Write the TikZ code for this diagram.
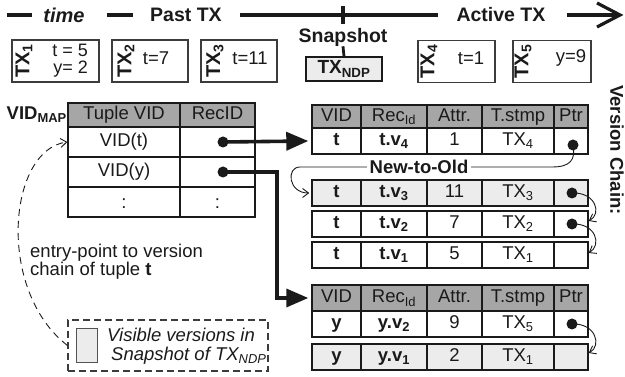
\documentclass[tikz,border=0pt]{standalone}
\usepackage{fontspec}
\setmainfont{Liberation Sans}
\usetikzlibrary{arrows.meta}
\definecolor{hdrgray}{HTML}{A6A6A6}
\definecolor{visgray}{HTML}{ECECEC}
\definecolor{ink}{HTML}{1A1A1A}

% one row of a version table: [height]{name}{y centre}{fill}{VID}{Rec}{Attr}{T.stmp}
\newcommand\vrow[8][26]{%
  \node[rowbox, fill=#4, minimum height=#1pt] (#2) at (450,#3) {};
  \foreach \cx in {361,427,482,554}
    \draw[rowline] (\cx,{#3-#1/2}) -- (\cx,{#3+#1/2});
  \node[cell] at (336.5,#3) {#5};
  \node[cell] at (394,#3) {#6};
  \node[cell] at (454.5,#3) {#7};
  \node[cell] at (518,#3) {#8};
}

\begin{document}
\begin{tikzpicture}[x=1pt,y=-1pt,
  font=\fontsize{18.5}{20}\selectfont, text=ink,
  tlabel/.style={font=\fontsize{19.5}{21}\selectfont\bfseries, inner sep=0pt},
  timeline/.style={line width=3.2pt, draw=ink},
  txbox/.style={draw=ink!85, line width=1.1pt, minimum height=42pt, inner sep=0pt},
  txname/.style={rotate=90, font=\fontsize{20}{21}\selectfont\bfseries, inner sep=0pt},
  txval/.style={inner sep=0pt, font=\fontsize{18.5}{20}\selectfont},
  rowbox/.style={draw=ink, line width=1.4pt, minimum width=276pt, inner sep=0pt},
  maprow/.style={draw=ink, line width=1.4pt, minimum width=187pt, inner sep=0pt},
  rowline/.style={draw=ink, line width=1.2pt},
  cell/.style={inner sep=0pt, text height=13.5pt, text depth=3.8pt},
  dot/.style={circle, fill=ink, inner sep=0pt, minimum size=11pt},
  thickarrow/.style={line width=3.6pt, draw=ink, -{Triangle[length=22pt,width=18pt]}},
  chain/.style={line width=0.9pt, draw=ink, -{Straight Barb[length=6pt,width=9pt]}},
  entry/.style={line width=0.9pt, draw=ink, dash pattern=on 7pt off 5pt, -{Straight Barb[length=6pt,width=9pt]}},
]
\useasboundingbox (0,0) rectangle (625,377);

% ---- time axis ----
\coordinate (a0) at (7,15);   \coordinate (a1) at (32,15);
\coordinate (b0) at (107,15); \coordinate (b1) at (133,15);
\coordinate (c0) at (240,15); \coordinate (c1) at (438,15);
\coordinate (e0) at (567,15); \coordinate (tip) at (620,15);
\coordinate (h1) at (597,3);  \coordinate (h2) at (597,27);
\node[tlabel, font=\fontsize{20}{21}\selectfont\bfseries\itshape] (time) at (64,15) {time};
\node[tlabel] (past) at (186,15) {Past TX};
\node[tlabel] (active) at (501,15) {Active TX};
\draw[timeline] (a0) -- (a1);
\draw[timeline] (b0) -- (b1);
\draw[timeline] (c0) -- (c1);
\draw[timeline] (e0) -- (tip);
\draw[timeline, line join=miter] (h1) -- (tip) -- (h2);

% snapshot marker
\coordinate (s0) at (343,6); \coordinate (s1) at (343,24);
\draw[timeline] (s0) -- (s1);
\node[tlabel] (snap) at (343,37) {Snapshot};
\node[draw=ink, line width=1.1pt, fill=visgray, minimum width=76pt, minimum height=24pt,
      inner sep=0pt, font=\fontsize{19}{20}\selectfont\bfseries] (ndp) at (344,69) {TX\textsubscript{NDP}};
\draw[line width=2.8pt, draw=ink] (snap.south) -- (ndp.north);

% ---- transactions ----
\node[txbox, minimum width=87pt] (tx1) at (55.5,61) {};
\node[txbox, minimum width=76pt] (tx2) at (150,61) {};
\node[txbox, minimum width=76pt] (tx3) at (239,61) {};
\node[txbox, minimum width=77pt] (tx4) at (456.5,61.5) {};
\node[txbox, minimum width=78pt] (tx5) at (552,61.5) {};
\node[txname] at (24,61) {TX\textsubscript{1}};
\node[txname] at (126,61) {TX\textsubscript{2}};
\node[txname] at (215,61) {TX\textsubscript{3}};
\node[txname] at (429,61.5) {TX\textsubscript{4}};
\node[txname] at (523,61.5) {TX\textsubscript{5}};
\node[txval, anchor=east, font=\fontsize{18}{19}\selectfont] at (88,50.5) {t = 5};
\node[txval, anchor=east, font=\fontsize{18}{19}\selectfont] at (88,69.5) {y= 2};
\node[txval] at (156,58) {t=7};
\node[txval] at (250,58) {t=11};
\node[txval] at (471,58) {t=1};
\node[txval] at (571,58) {y=9};

% ---- VID map ----
\node[anchor=east, inner sep=0pt, font=\fontsize{18.5}{20}\selectfont\bfseries] (vmlabel) at (67,115) {VID\textsubscript{MAP}};
\node[maprow, fill=hdrgray, minimum height=24pt] (vmh) at (161.5,115) {};
\node[maprow, minimum height=30pt] (vm1) at (161.5,142) {};
\node[maprow, minimum height=30pt] (vm2) at (161.5,172) {};
\node[maprow, minimum height=30pt] (vm3) at (161.5,202) {};
\draw[rowline] (180,103) -- (180,217);
\node[cell] at (124,115) {Tuple VID};
\node[cell] at (217.5,115) {RecID};
\node[cell] at (124,142) {VID(t)};
\node[cell] at (124,172) {VID(y)};
\node[cell] at (124,204) {:};
\node[cell] at (217.5,204) {:};
\node[dot] (d1) at (223,142) {};
\node[dot] (d2) at (223,172) {};

% ---- version chain of t ----
\vrow[23]{thdr}{116.5}{hdrgray}{VID}{Rec\textsubscript{Id}}{Attr.}{T.stmp}
\node[cell] at (571,116.5) {Ptr};
\vrow{tv4}{141}{white}{\textbf{t}}{\textbf{t.v\textsubscript{4}}}{1}{TX\textsubscript{4}}
\vrow{tv3}{193}{visgray}{\textbf{t}}{\textbf{t.v\textsubscript{3}}}{11}{TX\textsubscript{3}}
\vrow{tv2}{224}{white}{\textbf{t}}{\textbf{t.v\textsubscript{2}}}{7}{TX\textsubscript{2}}
\vrow{tv1}{255}{white}{\textbf{t}}{\textbf{t.v\textsubscript{1}}}{5}{TX\textsubscript{1}}

% ---- version chain of y ----
\vrow{yhdr}{298}{hdrgray}{VID}{Rec\textsubscript{Id}}{Attr.}{T.stmp}
\node[cell] at (571,298) {Ptr};
\vrow{yv2}{324}{white}{\textbf{y}}{\textbf{y.v\textsubscript{2}}}{9}{TX\textsubscript{5}}
\vrow{yv1}{357}{visgray}{\textbf{y}}{\textbf{y.v\textsubscript{1}}}{2}{TX\textsubscript{1}}

\node[rotate=-90, inner sep=0pt, font=\fontsize{18.5}{20}\selectfont\bfseries] (vc) at (617,150) {Version Chain:};

% ---- pointers ----
\node[dot] (p4) at (573,145) {};
\node[dot] (p3) at (572,193) {};
\node[dot] (p2) at (572,224) {};
\node[dot] (py) at (572,324) {};

\coordinate (n1) at (552,167);
\coordinate (n0) at (300,167);
\draw[chain] (p4.center) .. controls (576,160) and (570,167) .. (n1) -- (n0)
  .. controls (286,167) and (288,193) .. ([xshift=-2pt]tv3.west);
\node[fill=white, inner sep=3pt, font=\fontsize{18.5}{20}\selectfont\bfseries] (nto) at (419,167) {New-to-Old};

\draw[chain] (p3.center) .. controls (596,192) and (602,214) .. ([yshift=3pt]tv2.east);
\draw[chain] (p2.center) .. controls (596,223) and (602,245) .. ([yshift=2pt]tv1.east);
\draw[chain] (py.center) .. controls (596,323) and (602,346) .. ([yshift=4pt]yv1.east);

\coordinate (bend) at (277,172);
\draw[thickarrow] (d1.center) -- ([xshift=-3pt]tv4.west);
\draw[thickarrow] (d2.center) -- (bend) |- ([xshift=-3pt]yhdr.west);

% ---- legend ----
\node[draw=ink!85, line width=1.1pt, dash pattern=on 7pt off 4pt, minimum width=200pt,
      minimum height=51pt, inner sep=0pt] (legend) at (168,345.5) {};
\node[draw=ink!75, line width=0.9pt, fill=visgray, minimum width=21pt, minimum height=34pt,
      inner sep=0pt] (swatch) at (86.5,345) {};
\node[anchor=west, inner sep=0pt, font=\fontsize{18.5}{20}\selectfont\itshape] (leg1) at (107,335) {Visible versions in};
\node[anchor=west, inner sep=0pt, font=\fontsize{18.5}{20}\selectfont\itshape] (leg2) at (111,356) {Snapshot of TX\textsubscript{NDP}};

\node[anchor=west, align=left, inner sep=0pt, font=\fontsize{18.5}{16.5}\selectfont] (note) at (30,262)
  {entry-point to version\\chain of tuple \textbf{t}};
\draw[entry] (legend.west) .. controls (-4,290) and (8,150) .. (vm1.west);
\end{tikzpicture}
\end{document}
